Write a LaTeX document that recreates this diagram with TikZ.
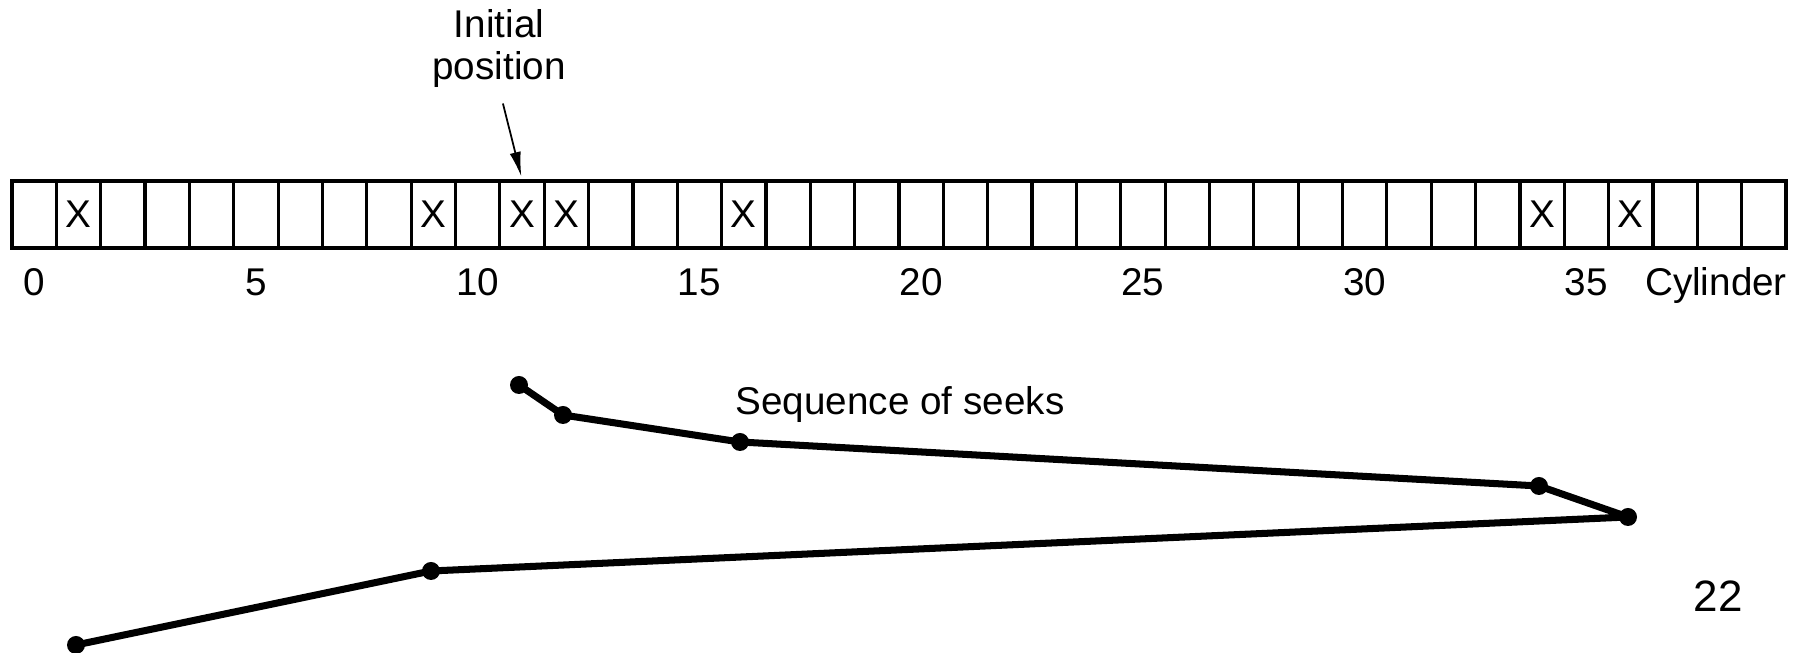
\documentclass[tikz,border=0pt]{standalone}
\usepackage{fontspec}
\setmainfont{Liberation Sans}
\usepackage{tikz}
\usetikzlibrary{arrows.meta}
\usetikzlibrary{positioning}

\begin{document}
\begin{tikzpicture}[x=0.1mm,y=-0.1mm,>={Latex[length=7pt,width=3.2pt]},
		font=\fontsize{11}{12}\selectfont,
		cell/.style={draw,line width=0.9pt,minimum width=4.435mm,minimum height=6.7mm,inner sep=0pt},
		lbl/.style={anchor=base,inner sep=0pt},
		dot/.style={circle,fill,inner sep=0pt,minimum size=1.8mm},
		seek/.style={line width=2pt,line join=round}]
		
		\useasboundingbox (0,0) rectangle (1804,653);
		
		% Cylinders 0..39
		\foreach \k in {0,...,39}
			\node[cell] (c\k) at ({34.2+44.35*\k},214.5) {};
		
		% Pending requests
		\foreach \k in {1,9,11,12,16,34,36}
			\node (x\k) at (c\k) {X};
		
		% Cylinder numbers
		\coordinate (base) at (0,296);
		\foreach \k in {0,5,...,35}
			\node[lbl] (n\k) at (c\k |- base) {\k};
		\node[lbl,anchor=base east] (cyl) at (c39.east |- base) {Cylinder};
		
		% Head starts at cylinder 11
		\node[align=center,anchor=south,inner sep=0pt] (init) at (499,88) {Initial\\position};
		\draw[->,line width=0.5pt,shorten <=1.6mm,shorten >=0.3mm] (init.south) -- (c11.north);
		
		% Seeks in the order they are served
		\node[dot] (s1) at (519,385) {};
		\node[dot] (s2) at (563,415) {};
		\node[dot] (s3) at (740,442) {};
		\node[dot] (s4) at (1539,486) {};
		\node[dot] (s5) at (1628,517) {};
		\node[dot] (s6) at (431,571) {};
		\node[dot] (s7) at (76,645) {};
		\draw[seek] (s1.center) -- (s2.center) -- (s3.center) -- (s4.center)
		-- (s5.center) -- (s6.center) -- (s7.center);
		
		\node[anchor=base west,inner sep=0pt] (seq) at (735,415) {Sequence of seeks};
		
		% page number
		\node[font=\fontsize{12.5}{14}\selectfont] (pg) at (1718,596) {22};
		
	\end{tikzpicture}
\end{document}
